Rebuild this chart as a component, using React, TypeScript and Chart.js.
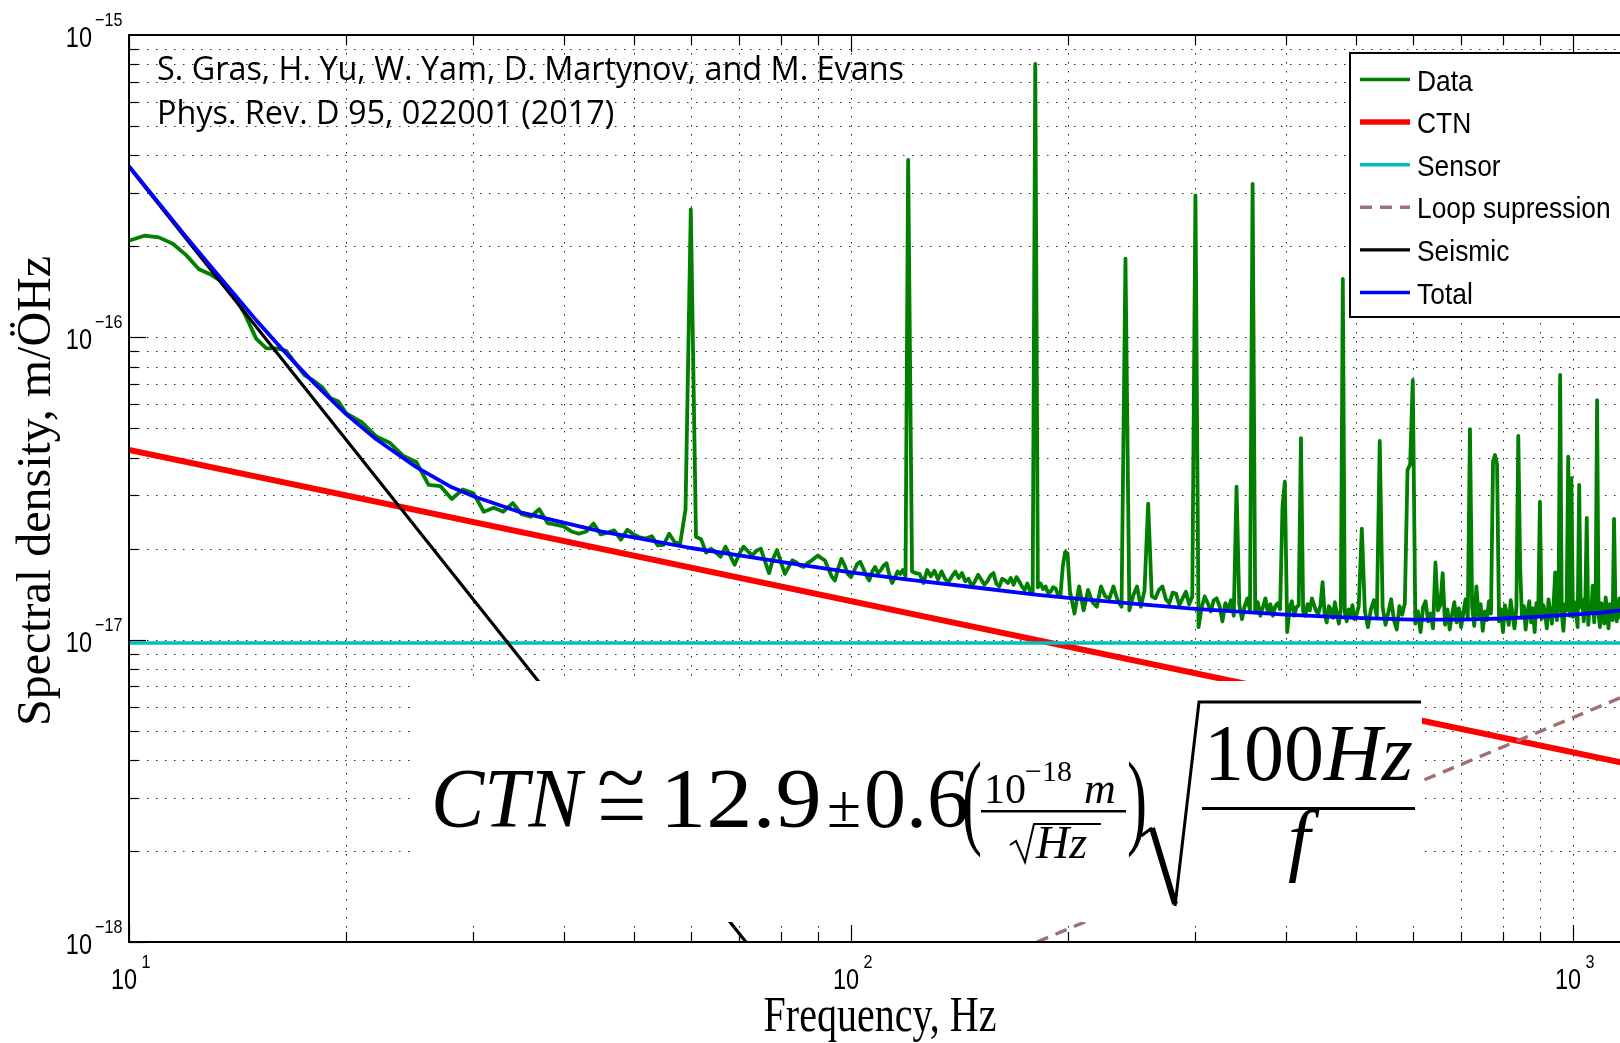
import React, { useEffect, useRef } from "react";
import { Chart, registerables } from "chart.js";
Chart.register(...registerables);

// ---------- values (amplitudes in units of 1e-18 m/√Hz) ----------
const UNIT = 1e-18;

// measured spectrum "Data" — uniform frequency bins per segment
const dataSeg1Start = 10, dataSeg1Step = 0.5;
const dataSeg1 = [208.7, 216.8, 214.1, 204, 187, 168, 161, 152, 137, 118, 99, 92, 92, 90.3, 82, 75, 72, 68.5, 63, 61.3, 56];

const dataSeg2Start = 21, dataSeg2Step = 1;
const dataSeg2 = [
  52.4, 47.0, 44.7, 40.5, 38.7, 32.5, 32.2, 29.2, 31.4, 30.5,
  26.5, 27.3, 26.5, 28.3, 26.0, 25.5, 27.0, 24.3, 24.0, 23.7,
  22.8, 22.4, 22.8, 24.2, 22.3, 22.6, 23.0, 21.4, 23.1, 22.3,
  21.8, 21.6, 22.0, 20.5, 20.6, 22.4, 21.0, 20.8, 27.0, 265,
  21.9, 21.5, 19.4, 20.0, 19.4, 18.8, 20.3, 19.0, 17.7, 19.2,
  20.3, 19.6, 19.0, 19.7, 20.0, 18.2, 16.6, 18.5, 19.8, 18.0,
  16.5, 17.4, 18.3, 18.0, 17.6, 17.4, 17.9, 18.2, 18.6, 19.0,
  18.6, 18.3, 17.2, 16.2, 15.7, 17.2, 18.5, 17.6, 16.5, 16.1,
  16.9, 17.8, 18.1, 17.2, 16.3, 15.7, 16.8, 17.4, 16.6, 17.0,
  17.6, 17.9, 16.4, 15.4, 16.0, 16.8, 16.5, 17.0, 16.2, 386,
];

const dataSeg3Start = 121.5, dataSeg3Step = 1.5;
const dataSeg3 = [
  16.8, 16.6, 16.5, 15.4, 17.0, 16.2, 16.9, 15.8, 16.8, 15.9,
  15.5, 16.2, 16.8, 16.0, 16.6, 15.6, 15.9, 15.0, 15.6, 16.4,
  15.8, 15.2, 15.6, 16.3, 16.6, 15.3, 15.0, 15.9, 15.7, 15.4,
  16.0, 15.2, 16.1, 15.6, 15.0, 14.6, 15.35, 14.5, 14.2, 803,
  14.9, 15.35, 14.7, 15.0, 14.3, 14.4, 14.9, 14.8, 14.1, 13.9,
  17.5, 19.5, 19.3,
];

const dataSeg4Start = 201, dataSeg4Step = 3;
const dataSeg4 = [
  14.5, 12.2, 15.0, 12.5, 14.6, 13.3, 12.85, 15.0, 13.9, 13.7,
  15.0, 13.5, 12.85, 182, 12.5, 14.0, 15.0, 12.85, 14.5, 28.2,
  13.9, 13.7, 14.6, 15.0, 13.6, 13.2, 14.3, 14.2, 13.0, 13.7,
  14.4, 13.1, 13.9, 295, 11.0, 12.8, 13.9, 13.2, 12.4, 13.5,
  13.7, 12.9, 11.5, 13.2, 12.6, 13.5, 12.0, 32.1, 13.1, 11.7,
  12.9, 13.7, 12.5, 322, 12.4, 13.3, 12.0, 12.8, 13.7, 12.3,
  13.1, 12.0, 12.9, 13.2, 12.6, 27.5, 33.3, 10.6, 12.7, 13.4,
  12.0, 12.8, 13.0, 46.4, 12.4, 12.0, 13.1, 12.5, 13.7, 13.0,
  12.4, 12.2, 13.0, 15.5, 12.1, 11.4, 12.9, 12.6, 11.8, 13.3,
  12.2, 11.3, 12.7, 156, 12.3, 11.5, 12.6, 12.1, 13.0, 11.7,
];

const dataSeg5Start = 500, dataSeg5Step = 5;
const dataSeg5 = [
  11.8, 12.9, 23.3, 12.4, 11.0, 12.6, 13.5, 11.9, 45.4, 12.8,
  11.2, 12.3, 13.6, 11.6, 10.8, 12.9, 12.1, 13.2, 36.4, 38.0,
  72.2, 11.3, 12.4, 10.6, 12.8, 13.4, 11.5, 12.2, 10.9, 18.0,
  12.5, 13.0, 16.6, 11.2, 12.6, 10.8, 12.1, 13.3, 11.4, 12.7,
  11.0, 12.3, 13.6, 11.7, 49.7, 12.9, 11.1, 15.0, 12.0, 13.1,
  10.7, 12.4, 11.6, 13.4, 12.2, 38.8, 40.8, 38.0, 11.5, 12.6,
  10.6, 13.0, 12.1, 11.2, 13.5, 12.0, 10.9, 12.8, 47.2, 17.5,
  11.8, 12.9, 10.8, 12.3, 13.4, 11.4, 12.7, 10.6, 13.2, 12.0,
  28.6, 11.7, 13.0, 12.2, 10.9, 13.6, 12.4, 11.3, 13.0, 16.7,
  11.6, 12.9, 75.1, 12.2, 10.7, 13.1, 12.5, 40.3, 12.0, 34.2,
  11.9, 13.3, 12.4, 11.0, 32.5, 12.8, 13.6, 11.5, 12.9, 25.3,
  11.2, 13.0, 12.3, 15.1, 11.4, 13.5, 62.0, 12.2, 11.0, 13.2,
  12.6, 11.3, 13.8, 12.4, 10.9, 13.1, 12.7, 11.6, 25.1, 13.4,
  11.5, 12.8, 13.7, 11.8, 12.9, 11.3, 13.5, 12.6, 11.9, 13.8,
  12.4, 11.4, 13.2, 12.7, 11.8, 13.9, 12.3, 11.6, 13.4, 12.9,
  11.7, 13.6, 12.5, 12.0, 13.8, 12.8, 11.9, 13.5, 12.7, 12.2,
  14.0, 13.0, 12.1, 13.6, 12.9,
];

// model curves
const ctnFreq = [10, 1320];
const ctnVals = [42.4, 3.69];
const sensorFreq = [10, 1320];
const sensorVals = [9.75, 9.75];
const loopFreq = [181, 1320];
const loopVals = [1.0, 7.29];
const seismicFreq = [10, 80];
const seismicVals = [366, 0.715];
const totalFreq = [10, 11, 12, 13, 14, 15, 16, 17, 18, 20, 22, 25, 28, 30, 35, 40, 45, 50, 60, 70, 80, 100, 120, 150, 180, 200, 250, 300, 400, 500, 600, 700, 800, 900, 1000, 1100, 1200, 1320];
const totalVals = [368, 278, 215, 171, 138.5, 114, 96, 82, 71, 55.6, 46, 37.2, 31.9, 29.8, 26.3, 24.4, 22.8, 21.8, 20.1, 19.0, 18.1, 16.7, 15.8, 14.85, 14.1, 13.75, 13.1, 12.65, 12.1, 11.8, 11.65, 11.65, 11.75, 11.92, 12.1, 12.3, 12.6, 12.96];

// axes
const xMin = 10, xMax = 1320;
const yMin = 1e-18, yMax = 1e-15;
const xGridTicks = [10, 20, 30, 40, 50, 60, 70, 80, 90, 100, 200, 300, 400, 500, 600, 700, 800, 900, 1000];
const yMantissas = [1, 2, 3, 4, 5, 6, 7, 8, 9];
const yDecades = [-18, -17, -16];
const xLabelExps = [1, 2, 3];
const yLabelExps = [-15, -16, -17, -18];

const legendLabels = ["Data", "CTN", "Sensor", "Loop supression", "Seismic", "Total"];
const citeLines = ["S. Gras, H. Yu, W. Yam, D. Martynov, and M. Evans", "Phys. Rev. D 95, 022001 (2017)"];

// ---------- styles ----------
const C_DATA = "#007f00";
const C_CTN = "#ff0000";
const C_SENSOR = "#00bfbf";
const C_LOOP = "#a07070";
const C_SEIS = "#000000";
const C_TOTAL = "#0000ff";
const SANS = '"Liberation Sans", Arial, sans-serif';
const SERIF = '"Liberation Serif", "Times New Roman", serif';

function segPoints(start: number, step: number, vals: number[]) {
  return vals.map((v, i) => ({ x: start + i * step, y: v * UNIT }));
}
function pairPoints(fs: number[], vs: number[]) {
  return fs.map((f, i) => ({ x: f, y: vs[i] * UNIT }));
}

function txt(ctx: CanvasRenderingContext2D, s: string, x: number, y: number, font: string, align: string = "left", sx: number = 1, sy: number = 1) {
  ctx.save();
  ctx.font = font;
  ctx.fillStyle = "#000";
  ctx.textBaseline = "alphabetic";
  ctx.textAlign = "left";
  const w = ctx.measureText(s).width * sx;
  let x0 = x;
  if (align === "right") x0 = x - w;
  else if (align === "center") x0 = x - w / 2;
  ctx.translate(x0, y);
  ctx.scale(sx, sy);
  ctx.fillText(s, 0, 0);
  ctx.restore();
  return w;
}

const decorPlugin = {
  id: "decor",
  beforeDatasetsDraw(chart: any) {
    const { ctx, chartArea: a, scales } = chart;
    ctx.save();
    ctx.strokeStyle = "rgba(0,0,0,0.85)";
    ctx.lineWidth = 1;
    ctx.setLineDash([1.5, 7.5]);
    for (const v of xGridTicks) {
      if (v <= xMin) continue;
      const x = Math.round(scales.x.getPixelForValue(v)) + 0.5;
      ctx.beginPath();
      ctx.moveTo(x, a.top);
      ctx.lineTo(x, a.bottom);
      ctx.stroke();
    }
    for (const d of yDecades) {
      for (const m of yMantissas) {
        if (m === 1 && d === -18) continue;
        const y = Math.round(scales.y.getPixelForValue(m * Math.pow(10, d))) + 0.5;
        ctx.beginPath();
        ctx.moveTo(a.left, y);
        ctx.lineTo(a.right, y);
        ctx.stroke();
      }
    }
    ctx.restore();
  },
  afterDatasetsDraw(chart: any) {
    const ctx: CanvasRenderingContext2D = chart.ctx;
    ctx.save();
    // formula box
    ctx.fillStyle = "#fff";
    ctx.fillRect(414, 681, 1422 - 414, 922 - 681);
    const big = `84px ${SERIF}`;
    txt(ctx, "CTN", 431, 827, `italic ${big}`, "left", 0.95);
    // congruence sign: tilde over equals
    txt(ctx, "~", 597, 806, big, "left", 1.05);
    txt(ctx, "=", 597, 838, big, "left", 1.05);
    txt(ctx, "12.9", 660, 827, big, "left", 1.1);
    txt(ctx, "\u00B1", 827, 827, `62px ${SERIF}`);
    txt(ctx, "0.6", 864, 827, big);
    txt(ctx, "(", 962, 835, `60px ${SERIF}`, "left", 1, 1.75);
    // inner fraction
    txt(ctx, "10", 984, 803, `42px ${SERIF}`);
    txt(ctx, "\u221218", 1025, 781, `30px ${SERIF}`);
    txt(ctx, "m", 1084, 803, `italic 44px ${SERIF}`);
    ctx.fillStyle = "#000";
    ctx.fillRect(981, 810, 145, 2.5);
    ctx.strokeStyle = "#000";
    ctx.lineWidth = 2;
    ctx.beginPath();
    ctx.moveTo(1010, 845);
    ctx.lineTo(1016, 841);
    ctx.lineTo(1025, 862);
    ctx.lineTo(1034, 824);
    ctx.lineTo(1101, 824);
    ctx.stroke();
    txt(ctx, "Hz", 1036, 858, `italic 46px ${SERIF}`);
    txt(ctx, ")", 1127, 835, `60px ${SERIF}`, "left", 1, 1.75);
    // big radical
    ctx.lineWidth = 3;
    ctx.beginPath();
    ctx.moveTo(1141, 836);
    ctx.lineTo(1152, 828);
    ctx.stroke();
    ctx.lineWidth = 6;
    ctx.beginPath();
    ctx.moveTo(1152, 828);
    ctx.lineTo(1175, 904);
    ctx.stroke();
    ctx.lineWidth = 3;
    ctx.beginPath();
    ctx.moveTo(1175, 906);
    ctx.lineTo(1199, 702);
    ctx.lineTo(1421, 702);
    ctx.stroke();
    const w100 = txt(ctx, "100", 1204, 780, `80px ${SERIF}`);
    txt(ctx, "Hz", 1204 + w100, 780, `italic 80px ${SERIF}`);
    ctx.fillRect(1202, 807, 213, 3);
    txt(ctx, "f", 1288, 866, `italic 80px ${SERIF}`);
    ctx.restore();
  },
  afterDraw(chart: any) {
    const ctx: CanvasRenderingContext2D = chart.ctx;
    const { chartArea: a, scales } = chart;
    ctx.save();
    // axis box (left, bottom, top)
    ctx.strokeStyle = "#000";
    ctx.lineWidth = 2;
    ctx.beginPath();
    ctx.moveTo(a.right + 5, a.top);
    ctx.lineTo(a.left, a.top);
    ctx.lineTo(a.left, a.bottom);
    ctx.lineTo(a.right + 5, a.bottom);
    ctx.stroke();
    // ticks
    ctx.lineWidth = 1.2;
    for (const v of xGridTicks) {
      const x = Math.round(scales.x.getPixelForValue(v)) + 0.5;
      const major = v === 10 || v === 100 || v === 1000;
      const L = major ? 17 : 10;
      ctx.beginPath();
      ctx.moveTo(x, a.bottom);
      ctx.lineTo(x, a.bottom - L);
      ctx.moveTo(x, a.top);
      ctx.lineTo(x, a.top + L);
      ctx.stroke();
    }
    for (const d of yDecades) {
      for (const m of yMantissas) {
        const y = Math.round(scales.y.getPixelForValue(m * Math.pow(10, d))) + 0.5;
        const L = m === 1 ? 17 : 9;
        ctx.beginPath();
        ctx.moveTo(a.left, y);
        ctx.lineTo(a.left + L, y);
        ctx.stroke();
      }
    }
    // tick labels
    const lab = `29px ${SANS}`;
    const sup = `19px ${SANS}`;
    for (const e of yLabelExps) {
      const y = scales.y.getPixelForValue(Math.pow(10, e));
      txt(ctx, "10", 92, y + 12, lab, "right", 0.81);
      txt(ctx, "\u2212" + String(-e), 95, y - 9, sup, "left", 0.85);
    }
    for (const e of xLabelExps) {
      const x = scales.x.getPixelForValue(Math.pow(10, e));
      txt(ctx, "10", x - 18, 989, lab, "left", 0.81);
      txt(ctx, String(e), x + 12.5, 968, sup, "left", 0.85);
    }
    // axis titles
    txt(ctx, "Frequency, Hz", 880, 1031, `50px ${SERIF}`, "center", 0.8);
    ctx.save();
    ctx.translate(50, 491);
    ctx.rotate(-Math.PI / 2);
    ctx.font = `48px ${SERIF}`;
    ctx.fillStyle = "#000";
    ctx.textAlign = "center";
    ctx.fillText("Spectral density, m/\u00D6Hz", 0, 0);
    ctx.restore();
    // citation
    ctx.font = `32px "Open Sans", sans-serif`;
    const cw = ctx.measureText(citeLines[0]).width;
    const csx = 747 / cw;
    txt(ctx, citeLines[0], 157, 80, `32px "Open Sans", sans-serif`, "left", csx);
    txt(ctx, citeLines[1], 157, 124, `32px "Open Sans", sans-serif`, "left", csx);
    // legend
    ctx.fillStyle = "#fff";
    ctx.fillRect(1350, 53, 400, 264);
    ctx.strokeStyle = "#000";
    ctx.lineWidth = 2;
    ctx.strokeRect(1350, 53, 400, 264);
    const cols = [C_DATA, C_CTN, C_SENSOR, C_LOOP, C_SEIS, C_TOTAL];
    const widths = [3.4, 5.5, 3.4, 3.4, 3.4, 3.4];
    legendLabels.forEach((s, i) => {
      const y = 79.5 + 42.6 * i;
      ctx.save();
      ctx.strokeStyle = cols[i];
      ctx.lineWidth = widths[i];
      if (i === 3) ctx.setLineDash([12, 8]);
      ctx.beginPath();
      ctx.moveTo(1360, y);
      ctx.lineTo(1410, y);
      ctx.stroke();
      ctx.restore();
      txt(ctx, s, 1417, y + 11, `30px ${SANS}`, "left", 0.88);
    });
    ctx.restore();
  },
};

export default function App() {
  const ref = useRef<HTMLCanvasElement>(null);
  useEffect(() => {
    const canvas = ref.current!;
    const dataPts = [
      ...segPoints(dataSeg1Start, dataSeg1Step, dataSeg1),
      ...segPoints(dataSeg2Start, dataSeg2Step, dataSeg2),
      ...segPoints(dataSeg3Start, dataSeg3Step, dataSeg3),
      ...segPoints(dataSeg4Start, dataSeg4Step, dataSeg4),
      ...segPoints(dataSeg5Start, dataSeg5Step, dataSeg5),
    ];
    const base = { pointRadius: 0, fill: false, tension: 0, borderJoinStyle: "round" as const };
    const chart = new Chart(canvas, {
      type: "line",
      data: {
        datasets: [
          { ...base, label: "Data", data: dataPts, borderColor: C_DATA, borderWidth: 3.8, order: 6 },
          { ...base, label: "CTN", data: pairPoints(ctnFreq, ctnVals), borderColor: C_CTN, borderWidth: 6, order: 5 },
          { ...base, label: "Sensor", data: pairPoints(sensorFreq, sensorVals), borderColor: C_SENSOR, borderWidth: 3.4, order: 4 },
          { ...base, label: "Loop supression", data: pairPoints(loopFreq, loopVals), borderColor: C_LOOP, borderWidth: 3.4, borderDash: [12, 8], order: 3 },
          { ...base, label: "Seismic", data: pairPoints(seismicFreq, seismicVals), borderColor: C_SEIS, borderWidth: 3.2, order: 2 },
          { ...base, label: "Total", data: pairPoints(totalFreq, totalVals), borderColor: C_TOTAL, borderWidth: 3.8, order: 1 },
        ],
      },
      options: {
        responsive: false,
        animation: false,
        devicePixelRatio: 1,
        layout: { padding: { top: 35, left: 0, right: 0, bottom: 0 } },
        plugins: { legend: { display: false }, tooltip: { enabled: false } },
        scales: {
          x: {
            type: "logarithmic",
            min: xMin,
            max: xMax,
            grid: { display: false },
            border: { display: false },
            ticks: { display: false },
            afterFit: (s: any) => { s.height = 101; },
          },
          y: {
            type: "logarithmic",
            min: yMin,
            max: yMax,
            grid: { display: false },
            border: { display: false },
            ticks: { display: false },
            afterFit: (s: any) => { s.width = 129; },
          },
        },
      },
      plugins: [decorPlugin],
    } as any);
    return () => chart.destroy();
  }, []);
  return (
    <div style={{ position: "fixed", left: 0, top: 0, width: 1620, height: 1043, overflow: "hidden", background: "#fff" }}>
      <canvas ref={ref} width={1660} height={1043} style={{ display: "block" }} />
    </div>
  );
}
